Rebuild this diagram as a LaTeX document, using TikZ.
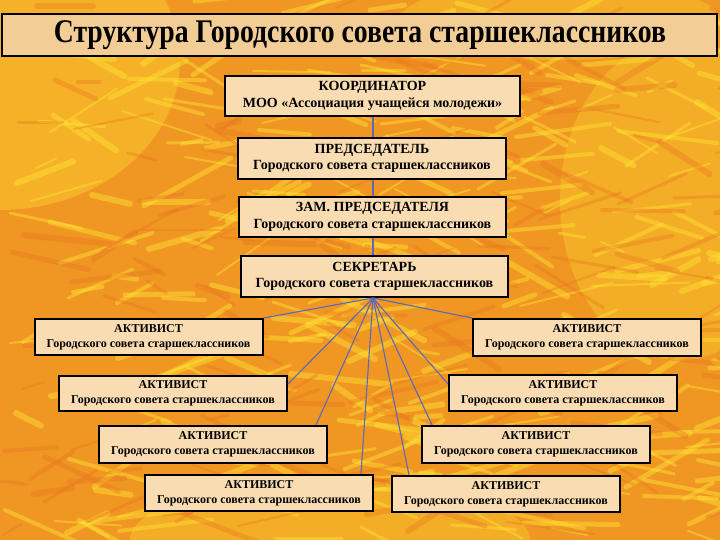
\documentclass[tikz,border=0pt]{standalone}
\usepackage{fontspec}
\setmainfont{Liberation Serif}
\usetikzlibrary{calc}
\definecolor{bgorange}{RGB}{240,150,35}
\definecolor{streakyellow}{RGB}{255,228,50}
\definecolor{streakorange}{RGB}{232,115,30}
\definecolor{boxfill}{RGB}{250,220,178}
\definecolor{titlefill}{RGB}{242,205,150}
\definecolor{linkblue}{RGB}{90,105,185}
\tikzset{
  orgbox/.style={draw=black, line width=2pt, fill=boxfill, align=center, inner sep=0pt, text=black},
  topbox/.style={orgbox, font=\bfseries\fontsize{14}{16.5}\selectfont},
  actbox/.style={orgbox, minimum width=228pt, font=\bfseries\fontsize{12}{15}\selectfont},
  link/.style={draw=linkblue, line width=1.1pt},
}
\begin{document}
\begin{tikzpicture}[x=1pt,y=-1pt]
\useasboundingbox (0,0) rectangle (720,540);
% background texture
\fill[bgorange] (0,0) rectangle (720,540);
\fill[streakyellow, opacity=0.35] (0,60) ellipse (180 and 150);
\fill[streakyellow, opacity=0.3] (680,200) ellipse (120 and 160);
\fill[streakyellow, opacity=0.3] (330,540) ellipse (200 and 60);
\fill[streakyellow, opacity=0.3] (560,20) ellipse (160 and 40);
\pgfmathsetseed{11}
\foreach \i in {1,...,320}{
  \pgfmathsetmacro\px{random(0,720)}
  \pgfmathsetmacro\py{random(0,540)}
  \pgfmathsetmacro\pl{random(20,100)}
  \pgfmathsetmacro\pa{random(-35,35)}
  \pgfmathsetmacro\pw{random(2,6)}
  \draw[streakyellow, opacity=0.45, line width=\pw pt, line cap=round] (\px,\py) -- ++(\pa:\pl);
}
\foreach \i in {1,...,180}{
  \pgfmathsetmacro\px{random(0,720)}
  \pgfmathsetmacro\py{random(0,540)}
  \pgfmathsetmacro\pl{random(20,90)}
  \pgfmathsetmacro\pa{random(-35,35)}
  \pgfmathsetmacro\pw{random(2,6)}
  \draw[streakorange, opacity=0.35, line width=\pw pt, line cap=round] (\px,\py) -- ++(\pa:\pl);
}
% title
\node[draw=black, line width=2.5pt, fill=titlefill, minimum width=715pt, minimum height=42pt, inner sep=0pt] (title) at (359.5,35) {};
\node[text=black, font=\bfseries\fontsize{33}{36}\selectfont, inner sep=0pt] (titletext) at (360,35)
  {\scalebox{0.84}[1]{Структура Городского совета старшеклассников}};
% top chain
\node[topbox, minimum width=295pt, minimum height=40pt] (coord) at (372.5,96) {КООРДИНАТОР\\МОО «Ассоциация учащейся молодежи»};
\node[topbox, minimum width=268pt, minimum height=41pt] (pred) at (372,158.5) {ПРЕДСЕДАТЕЛЬ\\Городского совета старшеклассников};
\node[topbox, minimum width=267pt, minimum height=40pt] (zam) at (372.5,217) {ЗАМ. ПРЕДСЕДАТЕЛЯ\\Городского совета старшеклассников};
\node[topbox, minimum width=267pt, minimum height=41pt] (sekr) at (374.5,276.5) {СЕКРЕТАРЬ\\Городского совета старшеклассников};
% activists
\node[actbox, minimum height=36pt] (a1) at (148.5,337) {АКТИВИСТ\\Городского совета старшеклассников};
\node[actbox, minimum height=35pt] (a2) at (173,393.5) {АКТИВИСТ\\Городского совета старшеклассников};
\node[actbox, minimum height=37pt] (a3) at (213,444.5) {АКТИВИСТ\\Городского совета старшеклассников};
\node[actbox, minimum height=36pt] (a4) at (259,493) {АКТИВИСТ\\Городского совета старшеклассников};
\node[actbox, minimum height=37pt] (b1) at (587,337.5) {АКТИВИСТ\\Городского совета старшеклассников};
\node[actbox, minimum height=36pt] (b2) at (563,393) {АКТИВИСТ\\Городского совета старшеклассников};
\node[actbox, minimum height=37pt] (b3) at (536,444.5) {АКТИВИСТ\\Городского совета старшеклассников};
\node[actbox, minimum height=36pt] (b4) at (506,494) {АКТИВИСТ\\Городского совета старшеклассников};
% connectors
\coordinate (hub) at ($(sekr.south)+(-1.5,0)$);
\draw[link] ($(coord.south)+(0.5,0)$) -- ($(pred.north)+(1,0)$);
\draw[link] ($(pred.south)+(1,0)$) -- ($(zam.north)+(0.5,0)$);
\draw[link] ($(zam.south)+(0.5,0)$) -- (hub |- sekr.north);
\draw[link] (hub) -- (a1.north east);
\draw[link] (hub) -- ($(a2.north east)+(0,9)$);
\draw[link] (hub) -- ($(a3.north east)+(-12,0)$);
\draw[link] (hub) -- ($(a4.north east)+(-13,0)$);
\draw[link] (hub) -- (b1.north west);
\draw[link] (hub) -- ($(b2.north west)+(0,10)$);
\draw[link] (hub) -- ($(b3.north west)+(11,0)$);
\draw[link] (hub) -- ($(b4.north west)+(18,0)$);
\end{tikzpicture}
\end{document}
